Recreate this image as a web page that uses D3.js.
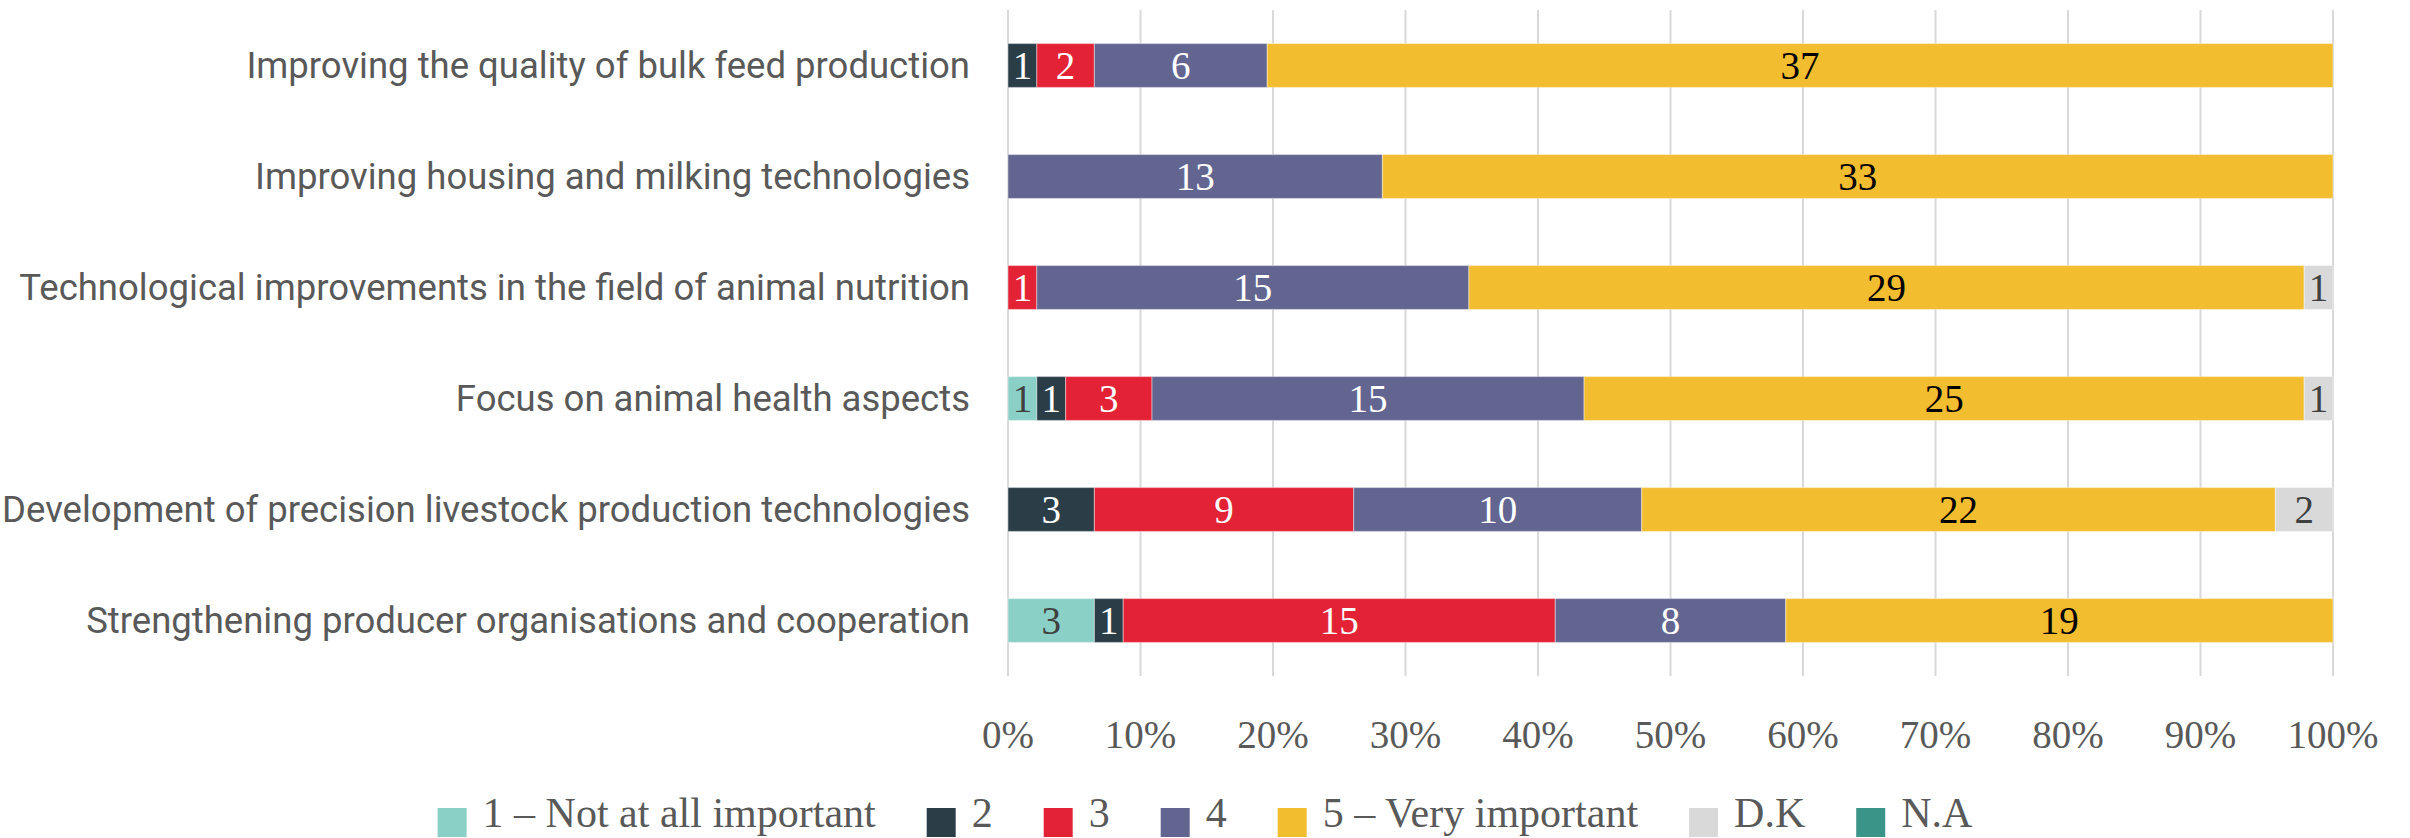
<!DOCTYPE html>
<html>
<head>
<meta charset="utf-8">
<script src="https://cdn.jsdelivr.net/npm/d3@7"></script>
<style>
  html, body { margin: 0; padding: 0; background: #fff; }
  svg { display: block; }
</style>
</head>
<body>
<div id="chart"></div>
<script>
// Categories, top to bottom
const categories = [
  'Improving the quality of bulk feed production',
  'Improving housing and milking technologies',
  'Technological improvements in the field of animal nutrition',
  'Focus on animal health aspects',
  'Development of precision livestock production technologies',
  'Strengthening producer organisations and cooperation'
];

// Answer options (series) and their colours
const seriesNames = ['1 – Not at all important', '2', '3', '4', '5 – Very important', 'D.K', 'N.A'];
const seriesColors = ['#8BD0C7', '#2B3E48', '#E32236', '#636591', '#F2BD2F', '#D9D9D9', '#3A9488'];
const labelColors = ['#404040', '#ffffff', '#ffffff', '#ffffff', '#000000', '#404040', '#ffffff'];

// Number of answers per category, one array per series
const notImportant = [0, 0, 0, 1, 0, 3];
const score2       = [1, 0, 0, 1, 3, 1];
const score3       = [2, 0, 1, 3, 9, 15];
const score4       = [6, 13, 15, 15, 10, 8];
const veryImportant = [37, 33, 29, 25, 22, 19];
const dontKnow     = [0, 0, 1, 1, 2, 0];
const notAnswered  = [0, 0, 0, 0, 0, 0];

const xTicks = [0, 0.1, 0.2, 0.3, 0.4, 0.5, 0.6, 0.7, 0.8, 0.9, 1];

const width = 2410, height = 838;
const seriesValues = [notImportant, score2, score3, score4, veryImportant, dontKnow, notAnswered];

const rows = categories.map((c, i) => {
  const r = { category: c };
  seriesNames.forEach((s, j) => { r[s] = seriesValues[j][i]; });
  return r;
});

const svg = d3.select('#chart').append('svg')
  .attr('width', width)
  .attr('height', height);

const x = d3.scaleLinear().domain([0, 1]).range([1008, 2333]);
const y = d3.scaleBand().domain(categories).range([10, 676])
  .paddingInner(0.604).paddingOuter(0.302);

// Gridlines
svg.append('g').selectAll('line')
  .data(xTicks)
  .join('line')
  .attr('x1', d => x(d)).attr('x2', d => x(d))
  .attr('y1', 10).attr('y2', 676)
  .attr('stroke', '#D9D9D9')
  .attr('stroke-width', 2);

// Stacked, normalised
const stack = d3.stack().keys(seriesNames).offset(d3.stackOffsetExpand);
const layers = stack(rows);

const layer = svg.append('g').selectAll('g')
  .data(layers)
  .join('g')
  .attr('fill', (d, i) => seriesColors[i]);

layer.selectAll('rect')
  .data(d => d.filter(p => p.data[d.key] > 0))
  .join('rect')
  .attr('x', d => x(d[0]))
  .attr('y', d => y(d.data.category))
  .attr('width', d => x(d[1]) - x(d[0]))
  .attr('height', y.bandwidth())
  .attr('stroke', '#fff')
  .attr('stroke-opacity', 0.35)
  .attr('stroke-width', 1.2);

// Value labels
layers.forEach((L, i) => {
  svg.append('g').selectAll('text')
    .data(L.filter(p => p.data[L.key] > 0))
    .join('text')
    .attr('x', d => (x(d[0]) + x(d[1])) / 2)
    .attr('y', d => y(d.data.category) + y.bandwidth() / 2)
    .attr('dy', '0.35em')
    .attr('text-anchor', 'middle')
    .style('font-family', '"Liberation Serif", "DejaVu Serif", serif')
    .style('font-size', '39px')
    .attr('fill', labelColors[i])
    .text(d => d.data[L.key]);
});

// Category labels
svg.append('g').selectAll('text')
  .data(categories)
  .join('text')
  .attr('x', 970)
  .attr('y', d => y(d) + y.bandwidth() / 2)
  .attr('dy', '0.35em')
  .attr('text-anchor', 'end')
  .style('font-family', 'Roboto, "Noto Sans", sans-serif')
  .style('font-size', '36.5px')
  .attr('fill', '#595959')
  .text(d => d);

// X tick labels
svg.append('g').selectAll('text')
  .data(xTicks)
  .join('text')
  .attr('x', d => x(d))
  .attr('y', 748)
  .attr('text-anchor', 'middle')
  .style('font-family', '"Liberation Serif", "DejaVu Serif", serif')
  .style('font-size', '39px')
  .attr('fill', '#595959')
  .text(d3.format('.0%'));

// Legend
const legend = svg.append('g');
const items = legend.selectAll('g')
  .data(seriesNames)
  .join('g');
items.append('rect')
  .attr('width', 29).attr('height', 29)
  .attr('y', 808)
  .attr('fill', (d, i) => seriesColors[i]);
items.append('text')
  .attr('x', 45)
  .attr('y', 827)
  .style('font-family', '"Liberation Serif", "DejaVu Serif", serif')
  .style('font-size', '42px')
  .attr('fill', '#595959')
  .text(d => d);

let offset = 0;
const offsets = [];
items.each(function() {
  offsets.push(offset);
  const w = d3.select(this).select('text').node().getComputedTextLength();
  offset += 45 + w + 51;
});
const total = offset - 51;
const start = width / 2 - total / 2;
items.attr('transform', (d, i) => `translate(${start + offsets[i]},0)`);
</script>
</body>
</html>
